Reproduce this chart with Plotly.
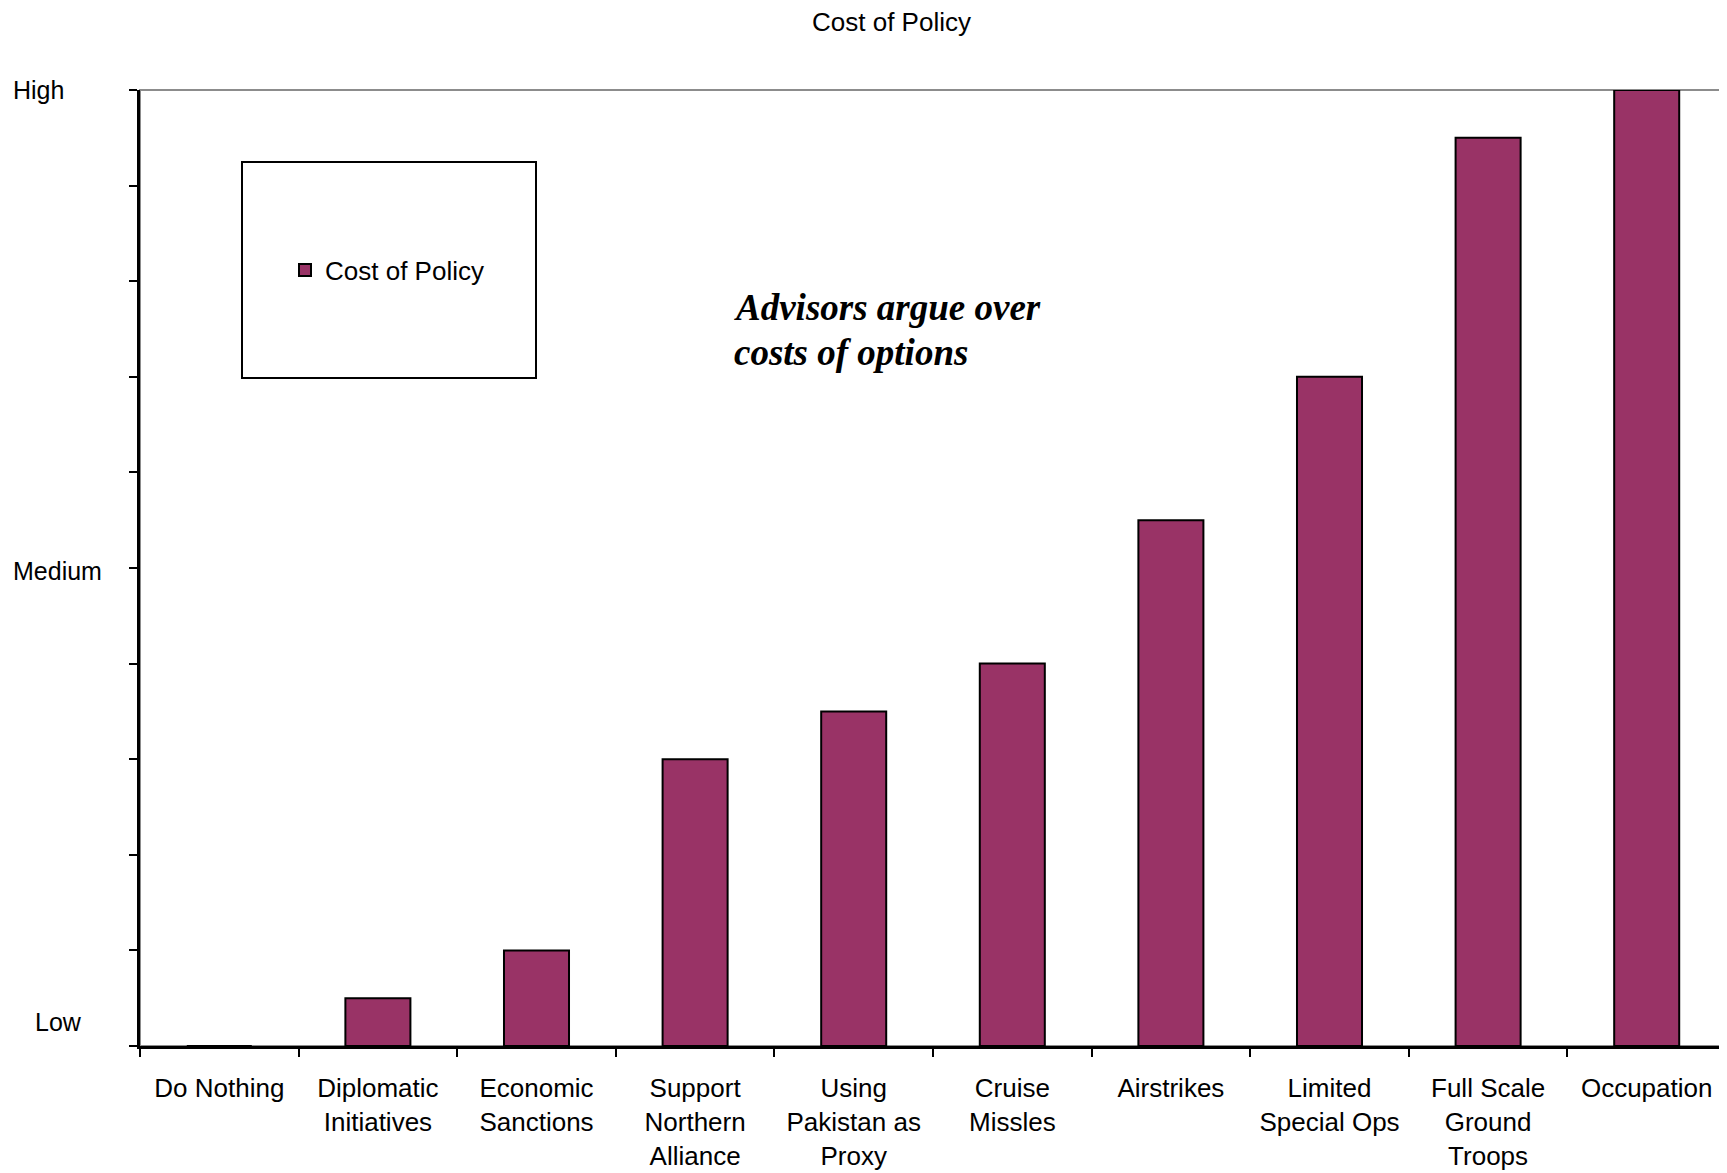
import plotly.graph_objects as go

categories = ["Do Nothing", "Diplomatic<br>Initiatives", "Economic<br>Sanctions",
              "Support<br>Northern<br>Alliance", "Using<br>Pakistan as<br>Proxy",
              "Cruise<br>Missles", "Airstrikes", "Limited<br>Special Ops",
              "Full Scale<br>Ground<br>Troops", "Occupation"]
cost_values = [0, 0.5, 1.0, 3.0, 3.5, 4.0, 5.5, 7.0, 9.5, 10.0]
y_levels = [0, 5, 10]
y_labels = ["Low", "Medium", "High"]
series_name = "Cost of Policy"
chart_title = "Cost of Policy"
note_lines = ["Advisors argue over", "costs of options"]

OFF = 8  # page body margin
W, H = 1727 - OFF, 1173 - OFF
L, R, T, B = 140 - OFF, 1, 90 - OFF, 127
pw, ph = W - L - R, H - T - B

def px(x):  # page pixel -> paper x
    return (x - OFF - L) / pw

def py(y):  # page pixel -> paper y
    return (H - B - (y - OFF)) / ph

sans = "Liberation Sans, Arial, sans-serif"
serif = "Liberation Serif, Times New Roman, serif"

fig = go.Figure()
fig.add_trace(go.Bar(
    x=categories, y=cost_values, name=series_name,
    marker=dict(color="#993366", line=dict(color="black", width=2)),
    width=0.41, showlegend=True,
))

# plot border (gray top/right)
fig.add_shape(type="rect", xref="paper", yref="paper", x0=0, x1=1, y0=0, y1=1,
              line=dict(color="#8c8c8c", width=2), layer="below")
# legend box
fig.add_shape(type="rect", xref="paper", yref="paper",
              x0=px(242), x1=px(536), y0=py(378), y1=py(162),
              line=dict(color="black", width=2), fillcolor="white", layer="below")

annotations = []
for lvl, lab, xpix, shift in zip(y_levels, y_labels, [33, 11, 11], [24, -3, 0]):
    annotations.append(dict(x=px(xpix), xref="paper", y=lvl, yref="y", text=lab,
                            showarrow=False, xanchor="left", yanchor="middle",
                            yshift=shift, font=dict(family=sans, size=25, color="black")))
annotations.append(dict(x=px(891), xref="paper", y=py(22), yref="paper", text=chart_title,
                        showarrow=False, xanchor="center", yanchor="middle",
                        font=dict(family=sans, size=26, color="black")))
for line, ypix in zip(note_lines, [307, 353]):
    annotations.append(dict(x=px(732), xref="paper", y=py(ypix), yref="paper",
                            text="<b><i>" + line + "</i></b>",
                            showarrow=False, xanchor="left", yanchor="middle", align="left",
                            font=dict(family=serif, size=37, color="black")))

fig.update_layout(
    width=W, height=H,
    margin=dict(l=L, r=R, t=T, b=B, autoexpand=False),
    plot_bgcolor="white", paper_bgcolor="white",
    font=dict(family=sans, size=26, color="black"),
    showlegend=True,
    legend=dict(x=px(285), y=py(270), xanchor="left", yanchor="middle",
                bgcolor="rgba(0,0,0,0)", font=dict(family=sans, size=26, color="black")),
    annotations=annotations,
    bargap=0.59,
)
fig.update_xaxes(type="category", tickson="boundaries", ticks="outside", ticklen=8,
                 tickwidth=2, tickcolor="black", showline=True, linecolor="black",
                 linewidth=3, showgrid=False, tickfont=dict(family=sans, size=26),
                 ticklabelstandoff=17, range=[-0.5, 9.5])
fig.update_yaxes(range=[0, 10], tickvals=list(range(11)), ticktext=[""] * 11,
                 ticks="outside", ticklen=8, tickwidth=2, tickcolor="black",
                 showline=True, linecolor="black", linewidth=3, showgrid=False,
                 zeroline=False)

fig.write_html("out.html")
